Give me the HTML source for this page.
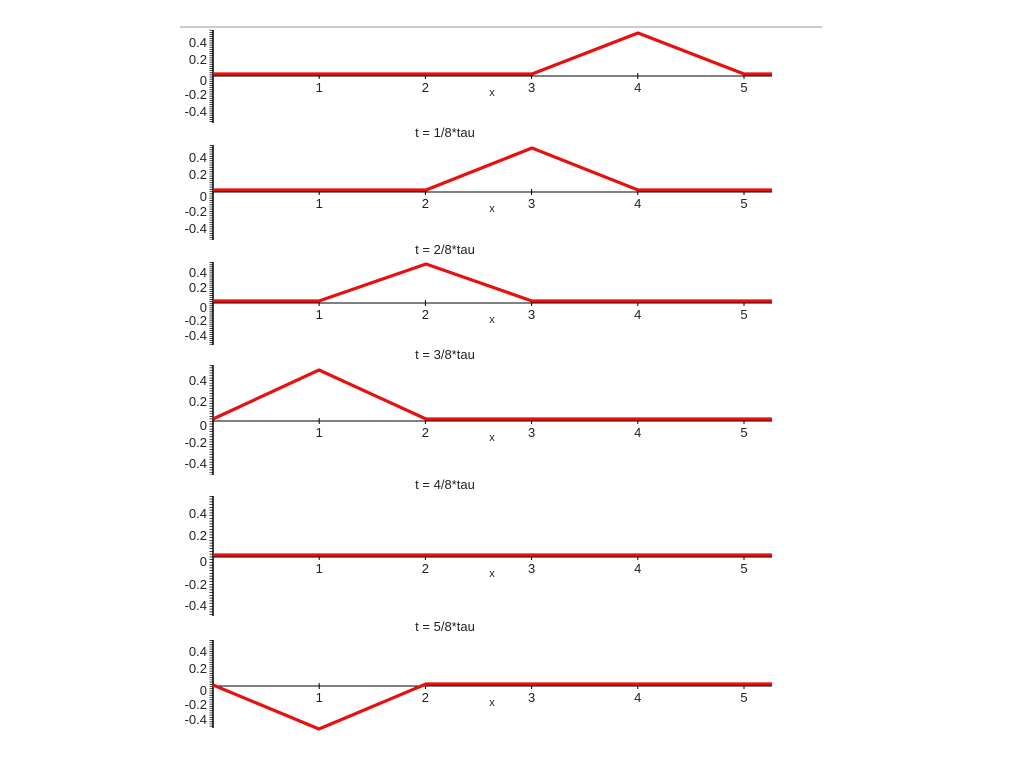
<!DOCTYPE html>
<html><head><meta charset="utf-8"><style>
html,body{margin:0;padding:0;background:#fff;}
svg{display:block;}
text{font-family:"Liberation Sans",sans-serif;font-size:13px;fill:#222;}
.ax{stroke:#000;stroke-width:1;}
.rd{fill:none;stroke:#e8100f;stroke-width:3.2;stroke-linejoin:round;}
</style></head><body>
<svg width="1024" height="767" viewBox="0 0 1024 767">
<line x1="180" y1="27" x2="822" y2="27" stroke="#bbb" stroke-width="1.5"/>
<defs>
<g id="xa">
<line class="ax" x1="213" y1="0" x2="772" y2="0"/>
<path class="ax" d="M319.2,-3v6M425.4,-3v6M531.6,-3v6M637.8,-3v6M744,-3v6"/>
<text x="319.2" y="16" text-anchor="middle">1</text>
<text x="425.4" y="16" text-anchor="middle">2</text>
<text x="531.6" y="16" text-anchor="middle">3</text>
<text x="637.8" y="16" text-anchor="middle">4</text>
<text x="744" y="16" text-anchor="middle">5</text>
<text x="492" y="20" text-anchor="middle" style="font-size:11px">x</text>
</g>
</defs>

<!-- panel 1 -->
<g transform="translate(0,76)"><use href="#xa"/></g>
<line x1="213" y1="30" x2="213" y2="123" stroke="#000" stroke-width="1.5"/>
<line x1="211" y1="29.9" x2="211" y2="123" stroke="#000" stroke-width="3" stroke-dasharray="0.7 1.425"/>
<g text-anchor="end"><text x="207" y="47">0.4</text><text x="207" y="64">0.2</text><text x="207" y="85">0</text><text x="207" y="99">-0.2</text><text x="207" y="116">-0.4</text></g>
<polyline class="rd" points="213,74 532,74 638,33 744,74 772,74"/>

<!-- panel 2 -->
<text x="445" y="137" text-anchor="middle">t = 1/8*tau</text>
<g transform="translate(0,192)"><use href="#xa"/></g>
<line x1="213" y1="145" x2="213" y2="240" stroke="#000" stroke-width="1.5"/>
<line x1="211" y1="145" x2="211" y2="240" stroke="#000" stroke-width="3" stroke-dasharray="0.7 1.5"/>
<g text-anchor="end"><text x="207" y="162">0.4</text><text x="207" y="179">0.2</text><text x="207" y="201">0</text><text x="207" y="216">-0.2</text><text x="207" y="233">-0.4</text></g>
<polyline class="rd" points="213,190 426,190 532,148 638,190 772,190"/>

<!-- panel 3 -->
<text x="445" y="254" text-anchor="middle">t = 2/8*tau</text>
<g transform="translate(0,303)"><use href="#xa"/></g>
<line x1="213" y1="262" x2="213" y2="345" stroke="#000" stroke-width="1.5"/>
<line x1="211" y1="262" x2="211" y2="345" stroke="#000" stroke-width="3" stroke-dasharray="0.7 1.25"/>
<g text-anchor="end"><text x="207" y="277">0.4</text><text x="207" y="292">0.2</text><text x="207" y="312">0</text><text x="207" y="325">-0.2</text><text x="207" y="340">-0.4</text></g>
<polyline class="rd" points="213,301 319,301 426,264 532,301 772,301"/>

<!-- panel 4 -->
<text x="445" y="359" text-anchor="middle">t = 3/8*tau</text>
<g transform="translate(0,421)"><use href="#xa"/></g>
<line x1="213" y1="365" x2="213" y2="475" stroke="#000" stroke-width="1.5"/>
<line x1="211" y1="365" x2="211" y2="475" stroke="#000" stroke-width="3" stroke-dasharray="0.7 1.85"/>
<g text-anchor="end"><text x="207" y="385">0.4</text><text x="207" y="406">0.2</text><text x="207" y="430">0</text><text x="207" y="447">-0.2</text><text x="207" y="468">-0.4</text></g>
<polyline class="rd" points="213,419 319,370 426,419 772,419"/>

<!-- panel 5 -->
<text x="445" y="489" text-anchor="middle">t = 4/8*tau</text>
<g transform="translate(0,557)"><use href="#xa"/></g>
<line x1="213" y1="496" x2="213" y2="616" stroke="#000" stroke-width="1.5"/>
<line x1="211" y1="496" x2="211" y2="616" stroke="#000" stroke-width="3" stroke-dasharray="0.7 2.05"/>
<g text-anchor="end"><text x="207" y="518">0.4</text><text x="207" y="540">0.2</text><text x="207" y="566">0</text><text x="207" y="589">-0.2</text><text x="207" y="610">-0.4</text></g>
<polyline class="rd" points="213,555 772,555"/>

<!-- panel 6 -->
<text x="445" y="631" text-anchor="middle">t = 5/8*tau</text>
<g transform="translate(0,686)"><use href="#xa"/></g>
<line x1="213" y1="640" x2="213" y2="728" stroke="#000" stroke-width="1.5"/>
<line x1="211" y1="640" x2="211" y2="728" stroke="#000" stroke-width="3" stroke-dasharray="0.7 1.5"/>
<g text-anchor="end"><text x="207" y="656">0.4</text><text x="207" y="673">0.2</text><text x="207" y="695">0</text><text x="207" y="709">-0.2</text><text x="207" y="724">-0.4</text></g>
<polyline class="rd" points="213,685 319,729 426,684 772,684"/>
</svg>
</body></html>
